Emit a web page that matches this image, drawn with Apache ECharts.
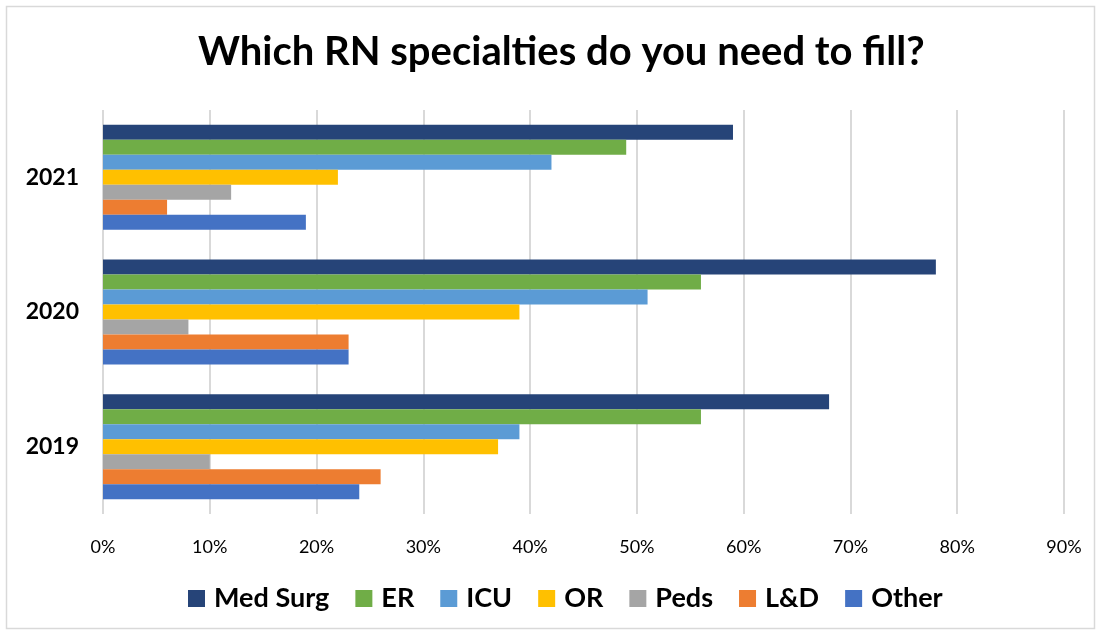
<!DOCTYPE html>
<html>
<head>
<meta charset="utf-8">
<script src="https://cdn.jsdelivr.net/npm/echarts@6/dist/echarts.min.js"></script>
<style>
html,body{margin:0;padding:0;background:#fff;}
#chart{width:1101px;height:635px;}
</style>
</head>
<body>
<div id="chart"></div>
<script>
const categories = ['2019', '2020', '2021'];
const seriesNames = ['Med Surg', 'ER', 'ICU', 'OR', 'Peds', 'L&D', 'Other'];
const medSurg = [68, 78, 59];
const er = [56, 56, 49];
const icu = [39, 51, 42];
const orVals = [37, 39, 22];
const peds = [10, 8, 12];
const ld = [26, 23, 6];
const other = [24, 23, 19];
const colors = ['#264478', '#70AD47', '#5B9BD5', '#FFC000', '#A5A5A5', '#ED7D31', '#4472C4'];
const seriesData = [medSurg, er, icu, orVals, peds, ld, other];

const FONT = 'Lato';
const chart = echarts.init(document.getElementById('chart'));
chart.setOption({
  animation: false,
  backgroundColor: '#fff',
  title: {
    text: 'Which RN specialties do you need to fill?',
    left: 193,
    top: 27,
    textStyle: {fontFamily: FONT, fontWeight: 'bold', fontSize: 40, color: '#000'}
  },
  legend: {
    data: seriesNames,
    bottom: 23,
    left: 188,
    padding: 0,
    itemWidth: 17,
    itemHeight: 17,
    itemGap: 26,
    icon: 'rect',
    textStyle: {fontFamily: FONT, fontWeight: 'bold', fontSize: 27, color: '#000', padding: [0,0,0,4]}
  },
  grid: {left: 103, right: 37, top: 110, bottom: 121, containLabel: false},
  xAxis: {
    type: 'value',
    min: 0, max: 90, interval: 10,
    axisLine: {show: false},
    axisTick: {show: false},
    splitLine: {show: true, lineStyle: {color: '#d9d9d9', width: 2}},
    axisLabel: {formatter: '{value}%', fontFamily: FONT, fontSize: 18, color: '#000', margin: 24}
  },
  yAxis: {
    type: 'category',
    data: categories,
    axisLine: {show: false},
    axisTick: {show: false},
    axisLabel: {fontFamily: FONT, fontWeight: 'bold', fontSize: 23, color: '#000', margin: 24}
  },
  graphic: [{
    type: 'rect',
    shape: {x: 6.5, y: 6.5, width: 1088, height: 622},
    style: {fill: 'none', stroke: '#d9d9d9', lineWidth: 1.5},
    z: -1
  }],
  series: seriesNames.map((n, i) => ({
    name: n,
    type: 'bar',
    data: seriesData[i],
    itemStyle: {color: colors[i]},
    barGap: '0%',
    barCategoryGap: '22%'
  }))
});
</script>
</body>
</html>
